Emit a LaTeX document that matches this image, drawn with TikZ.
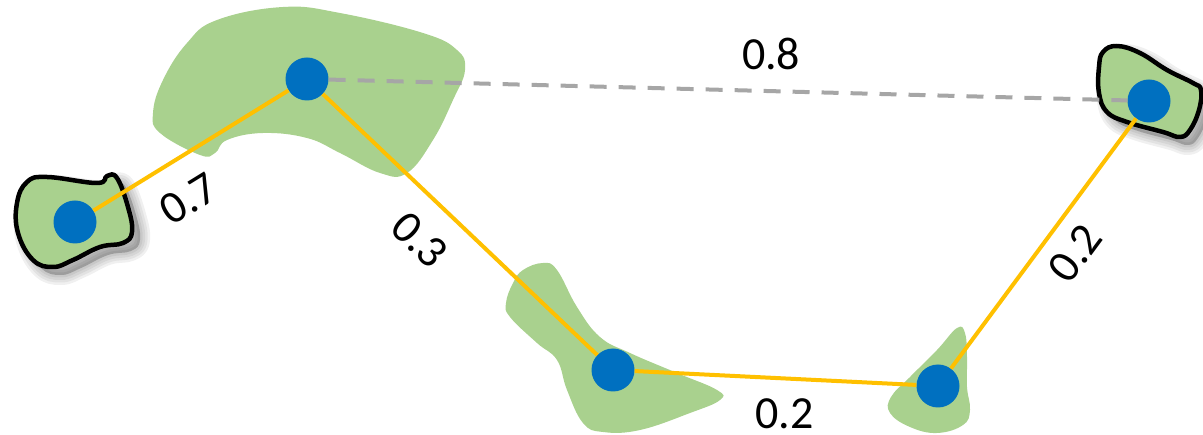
\documentclass[tikz,border=0pt]{standalone}
\usepackage{fontspec}
\setmainfont{Carlito}
\definecolor{cellgreen}{RGB}{169,209,142}
\definecolor{dotblue}{RGB}{0,112,192}
\definecolor{linkyellow}{RGB}{255,192,0}
\definecolor{linkgray}{RGB}{166,166,166}
\newcommand\lcellshape{plot[smooth cycle,tension=0.7] coordinates {
    (27,182) (47,177) (97,183) (107,176) (117,178) (128,207) (132,232)
    (123,243) (100,247) (73,260) (53,267) (33,260) (18,233) (17,203)}}
\newcommand\rcellshape{plot[smooth cycle,tension=0.7] coordinates {
    (1103,52) (1117,46) (1140,53) (1167,70) (1193,83) (1201,90) (1199,110)
    (1190,130) (1180,137) (1163,132) (1127,122) (1107,112) (1099,93) (1099,67)}}

\begin{document}
\begin{tikzpicture}[
  x=1pt,y=-1pt,
  every node/.style={font=\fontsize{46}{50}\selectfont},
  region/.style={fill=cellgreen},
  outlined/.style={fill=cellgreen,draw=black,line width=4.5pt,line join=round},
  softshadow/.style={draw=black,fill=black,draw opacity=0.06,fill opacity=0.06,
                     line width=#1,line join=round,shift={(8,8)}},
  celldot/.style={circle,fill=dotblue,minimum size=43pt,inner sep=0pt},
  link/.style={line width=4pt,linkyellow},
  farlink/.style={line width=4pt,linkgray,dash pattern=on 17pt off 12pt},
  weight/.style={inner sep=0pt,text=black},
]
  \useasboundingbox (0,0) rectangle (1203,435);

  % Regions
  \fill[region] plot[smooth cycle,tension=0.7] coordinates {
    (217,20) (283,7) (340,13) (423,33) (457,50) (465,70) (453,100) (433,140)
    (407,173) (380,173) (340,153) (307,138) (263,133) (227,140) (215,153)
    (200,155) (160,133) (153,113) (163,80) (187,43)};
  \fill[region] plot[smooth cycle,tension=0.7] coordinates {
    (523,270) (543,263) (557,270) (577,307) (600,337) (630,353) (677,373)
    (717,390) (720,400) (690,413) (640,430) (603,432) (583,423) (567,390)
    (557,360) (537,343) (510,317) (506,303) (513,283)};
  \fill[region] plot[smooth cycle,tension=0.7] coordinates {
    (957,328) (965,333) (967,357) (967,387) (970,410) (963,425) (937,433)
    (910,427) (890,413) (891,397) (910,377) (937,350)};

  % Outlined cells with soft shadows
  \foreach \w in {20pt,15pt,10pt,5pt} {
    \path[softshadow=\w] \lcellshape;
    \path[softshadow=\w] \rcellshape;
  }
  \path[outlined] \lcellshape;
  \path[outlined] \rcellshape;

  % Cell centres
  \node[celldot] (lcell) at (75,222) {};
  \node[celldot] (tcell) at (307,79) {};
  \node[celldot] (rcell) at (1149,101) {};
  \node[celldot] (mcell) at (613,370) {};
  \node[celldot] (bcell) at (938,386) {};

  % Links
  \draw[farlink] (tcell) -- (rcell)
    node[weight,pos=0.554,above=19pt] {0.8};
  \draw[link] (lcell) -- (tcell)
    node[weight,pos=0.382,sloped,below=23pt] {0.7};
  \draw[link] (tcell) -- (mcell)
    node[weight,pos=0.452,sloped,below=22pt] {0.3};
  \draw[link] (mcell) -- (bcell)
    node[weight,pos=0.532,below=18pt] {0.2};
  \draw[link] (bcell) -- (rcell)
    node[weight,pos=0.534,sloped,below=14pt] {0.2};
\end{tikzpicture}
\end{document}
